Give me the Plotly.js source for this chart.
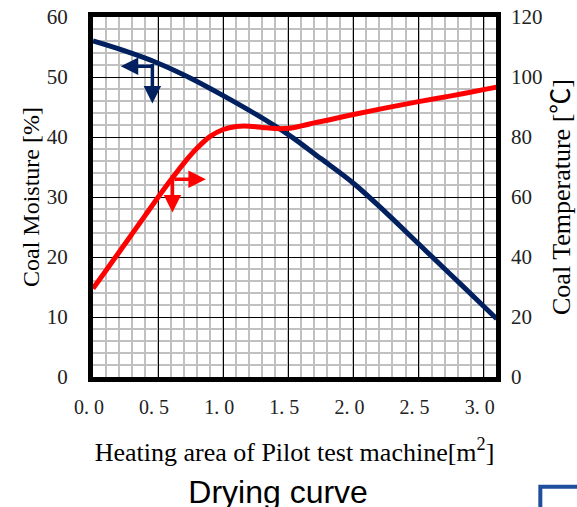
<!DOCTYPE html>
<html>
<head>
<meta charset="utf-8">
<script src="https://cdn.plot.ly/plotly-3.0.1.min.js"></script>
<style>html,body{margin:0;padding:0;background:#fff;}#chart{width:577px;height:507px;}</style>
</head>
<body>
<div id="chart"></div>
<script>
// Heating area [m2]
const areaMoisture = [0, 0.25, 0.5, 0.75, 1.0, 1.25, 1.5, 1.75, 2.0, 2.25, 2.5, 2.75, 3.0, 3.1];
// Coal moisture [%]
const coalMoisture = [56.0, 54.3, 52.3, 49.8, 46.9, 43.8, 40.4, 36.4, 32.3, 27.4, 22.2, 17.0, 11.8, 9.7];

const areaTemp = [0, 0.1, 0.2, 0.3, 0.4, 0.5, 0.6, 0.7, 0.8, 0.9, 1.0, 1.1, 1.2, 1.3, 1.4, 1.5, 1.6, 1.7, 1.8, 2.0, 2.25, 2.5, 2.75, 3.0, 3.1];
// Coal temperature [°C]
const coalTemp = [29.5, 35.5, 41.6, 47.7, 53.8, 59.9, 65.8, 71.4, 76.3, 80.2, 82.5, 83.5, 83.6, 83.2, 82.8, 82.9, 83.7, 84.7, 85.6, 87.5, 89.7, 91.8, 93.7, 95.8, 96.6];

const xTickVals = [0, 0.5, 1.0, 1.5, 2.0, 2.5, 3.0];
const xTickText = ["0. 0", "0. 5", "1. 0", "1. 5", "2. 0", "2. 5", "3. 0"];

const navy = "#002060";
const red = "#ff0000";
const serif = "Liberation Serif, Times New Roman, serif";

const traces = [
  {x: areaMoisture, y: coalMoisture, type: "scatter", mode: "lines", name: "Coal Moisture",
   line: {color: navy, width: 5, shape: "spline", smoothing: 1}, yaxis: "y"},
  {x: areaTemp, y: coalTemp, type: "scatter", mode: "lines", name: "Coal Temperature",
   line: {color: red, width: 5, shape: "spline", smoothing: 1}, yaxis: "y2"}
];

function arrow(x, y, ax, ay, color, yref) {
  return {x: x, y: y, xref: "x", yref: yref, ax: ax, ay: ay, text: "", showarrow: true,
          arrowhead: 2, arrowsize: 1, arrowwidth: 3.5, arrowcolor: color, standoff: 0};
}

const layout = {
  width: 577, height: 507,
  margin: {l: 93, r: 81, t: 17, b: 130},
  paper_bgcolor: "#ffffff", plot_bgcolor: "#ffffff",
  showlegend: false,
  font: {family: serif, color: "#000"},
  title: {text: "Drying curve", font: {family: "Liberation Sans, Arial, sans-serif", size: 32, color: "#000"},
          x: 0.482, xanchor: "center", xref: "container", y: 0.03, yref: "container", yanchor: "middle"},
  xaxis: {
    range: [0, 3.095], tickmode: "array", tickvals: xTickVals, ticktext: xTickText,
    showgrid: true, gridcolor: "#000000", gridwidth: 1, zeroline: false,
    showline: true, linecolor: "#000", linewidth: 5, mirror: true, ticks: "",
    ticklabelshift: -4, ticklabelstandoff: 8,
    tickfont: {family: serif, size: 20, color: "#222"},
    minor: {tickmode: "linear", tick0: 0, dtick: 0.1, showgrid: true, gridcolor: "#c0c0c0", gridwidth: 2},
    title: {text: "Heating area of Pilot test machine[m<sup>2</sup>]", font: {family: serif, size: 26, color: "#000"}, standoff: 27}
  },
  yaxis: {
    range: [0, 60], dtick: 10, tick0: 0,
    showgrid: true, gridcolor: "#000000", gridwidth: 1, zeroline: false,
    showline: true, linecolor: "#000", linewidth: 5, mirror: true, ticks: "",
    ticklabelstandoff: 16,
    tickfont: {family: serif, size: 21, color: "#222"},
    minor: {tickmode: "linear", tick0: 0, dtick: 2, showgrid: true, gridcolor: "#c0c0c0", gridwidth: 2},
    title: {text: "Coal Moisture [%]", font: {family: serif, size: 24, color: "#000"}, standoff: 2}
  },
  yaxis2: {
    range: [0, 120], dtick: 20, tick0: 0, overlaying: "y", side: "right",
    showgrid: false, zeroline: false, showline: false, ticks: "",
    ticklabelstandoff: 14,
    tickfont: {family: serif, size: 21, color: "#222"},
    title: {text: "Coal Temperature [℃]", font: {family: "Liberation Serif, Noto Sans CJK JP, serif", size: 26, color: "#000"}, standoff: 10}
  },
  annotations: [
    arrow(0.213, 51.8, 33, 0, navy, "y"),
    arrow(0.456, 45.6, 0, -41, navy, "y"),
    arrow(0.867, 32.95, -33, 0, red, "y"),
    arrow(0.61, 27.4, 0, -39, red, "y")
  ],
  shapes: [
    {type: "rect", xref: "paper", yref: "paper", x0: 1.11, x1: 1.5, y0: -0.305, y1: -0.6,
     line: {color: "#1f4e9e", width: 4}, fillcolor: "rgba(0,0,0,0)"}
  ]
};

Plotly.newPlot("chart", traces, layout, {displayModeBar: false, staticPlot: true});
</script>
</body>
</html>
